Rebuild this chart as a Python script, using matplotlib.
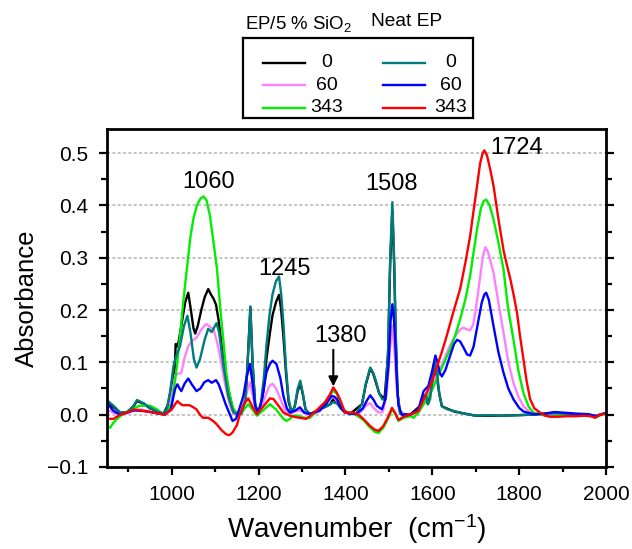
import matplotlib
matplotlib.use("Agg")
import matplotlib.pyplot as plt
from matplotlib.ticker import MultipleLocator, FuncFormatter

plt.rcParams['font.family'] = ['Liberation Sans', 'DejaVu Sans']
plt.rcParams['mathtext.fontset'] = 'custom'
plt.rcParams['mathtext.rm'] = 'Liberation Sans'
plt.rcParams['mathtext.it'] = 'Liberation Sans:italic'
plt.rcParams['mathtext.bf'] = 'Liberation Sans:bold'

# EP/5 % SiO2, 0 h  (black)
si0_x = [850, 865, 881, 897, 912, 920, 935, 950, 966, 981, 992, 1000, 1007, 1009, 1012, 1016,
         1024, 1031, 1038, 1044, 1050, 1054, 1060, 1068, 1076, 1084, 1090, 1096, 1102, 1108,
         1115, 1122, 1130, 1140, 1150, 1160, 1170, 1176, 1181, 1186, 1192, 1198, 1205, 1212,
         1218, 1225, 1232, 1240, 1247, 1252, 1257, 1263, 1269, 1276, 1283, 1290, 1296, 1302,
         1308, 1318, 1341, 1365, 1372, 1378, 1383, 1390, 1410, 1438, 1447, 1457, 1464, 1478,
         1490, 1498, 1503, 1508, 1512, 1516, 1520, 1526, 1549, 1572, 1582, 1590, 1600, 1606,
         1616, 1622, 1650, 1700, 1760, 1830, 1890, 1950, 1975, 2000]
si0_y = [0.022, 0.015, 0.004, 0.004, 0.016, 0.026, 0.021, 0.012, 0.006, 0.002, 0.02, 0.06, 0.09,
         0.135, 0.13, 0.14, 0.18, 0.215, 0.233, 0.2, 0.165, 0.155, 0.17, 0.2, 0.225, 0.24, 0.23,
         0.222, 0.21, 0.18, 0.13, 0.09, 0.05, 0.012, 0.002, 0.002, 0.03, 0.12, 0.205, 0.1, 0.02,
         0.002, 0.015, 0.05, 0.106, 0.15, 0.19, 0.215, 0.229, 0.2, 0.15, 0.08, 0.025, 0.004,
         0.015, 0.045, 0.06, 0.038, 0.01, 0.001, 0.01, 0.02, 0.03, 0.022, 0.028, 0.012, 0.001,
         0.02, 0.058, 0.088, 0.078, 0.04, 0.03, 0.115, 0.29, 0.39, 0.29, 0.14, 0.04, 0.002, 0.0,
         0.017, 0.037, 0.02, 0.063, 0.098, 0.04, 0.016, 0.006, -0.002, -0.002, 0.0, 0.003, 0.0,
         -0.003, 0.003]

# EP/5 % SiO2, 60 h  (pink)
si60_x = [850, 860, 870, 885, 900, 915, 930, 950, 970, 985, 995, 1003, 1008, 1015, 1022, 1030,
          1038, 1048, 1057, 1066, 1075, 1080, 1088, 1096, 1104, 1111, 1120, 1130, 1138, 1145,
          1152, 1162, 1172, 1180, 1188, 1196, 1205, 1215, 1225, 1232, 1241, 1250, 1261, 1272,
          1285, 1295, 1308, 1320, 1340, 1360, 1372, 1385, 1398, 1415, 1435, 1448, 1457, 1466,
          1476, 1486, 1495, 1502, 1508, 1513, 1518, 1524, 1532, 1550, 1568, 1587, 1600, 1610,
          1622, 1633, 1645, 1657, 1664, 1672, 1680, 1687, 1694, 1700, 1708, 1716, 1722, 1728,
          1735, 1741, 1752, 1764, 1775, 1787, 1798, 1810, 1822, 1833, 1860, 1890, 1920, 1950,
          1975, 2000]
si60_y = [0.01, 0.006, 0.002, 0.001, 0.003, 0.01, 0.01, 0.006, 0.002, 0.001, 0.015, 0.05, 0.075,
          0.078, 0.08, 0.11, 0.131, 0.142, 0.147, 0.16, 0.17, 0.173, 0.168, 0.163, 0.14, 0.112,
          0.07, 0.03, 0.008, 0.0, -0.002, 0.01, 0.04, 0.062, 0.03, 0.004, 0.01, 0.035, 0.055,
          0.059, 0.049, 0.03, 0.008, 0.002, 0.006, 0.008, 0.002, 0.0, 0.006, 0.025, 0.035, 0.02,
          0.004, 0.001, 0.005, 0.018, 0.022, 0.012, 0.004, 0.005, 0.04, 0.12, 0.17, 0.12, 0.05,
          0.01, 0.0, 0.0, 0.008, 0.036, 0.055, 0.074, 0.095, 0.118, 0.14, 0.155, 0.163, 0.166,
          0.163, 0.161, 0.172, 0.2, 0.25, 0.3, 0.32, 0.312, 0.29, 0.271, 0.215, 0.156, 0.1, 0.06,
          0.035, 0.016, 0.007, 0.002, 0.0, 0.001, 0.0, -0.002, -0.003, 0.002]

# EP/5 % SiO2, 343 h  (green)
si343_x = [850, 858, 866, 881, 904, 927, 950, 966, 981, 1000, 1010, 1019, 1027, 1035, 1043, 1050,
           1058, 1066, 1073, 1080, 1088, 1096, 1104, 1112, 1119, 1126, 1134, 1142, 1150, 1160,
           1168, 1176, 1184, 1196, 1210, 1226, 1240, 1250, 1257, 1264, 1272, 1280, 1290, 1305,
           1318, 1333, 1353, 1365, 1372, 1380, 1390, 1400, 1418, 1441, 1456, 1468, 1476, 1487,
           1499, 1507, 1514, 1522, 1534, 1549, 1557, 1568, 1587, 1600, 1610, 1622, 1633, 1641,
           1654, 1664, 1676, 1687, 1695, 1703, 1712, 1718, 1724, 1732, 1741, 1752, 1764, 1775,
           1787, 1798, 1810, 1822, 1833, 1848, 1870, 1900, 1930, 1960, 1978, 1990, 2000]
si343_y = [-0.022, -0.025, -0.015, -0.003, 0.01, 0.017, 0.017, 0.01, 0.0, 0.02, 0.08, 0.15, 0.22,
           0.28, 0.34, 0.375, 0.4, 0.413, 0.417, 0.41, 0.38, 0.33, 0.28, 0.2, 0.14, 0.075, 0.035,
           0.01, 0.002, 0.002, 0.012, 0.02, 0.012, -0.002, 0.008, 0.02, 0.01, 0.0, -0.008, -0.012,
           -0.008, -0.002, -0.002, -0.006, -0.006, 0.006, 0.02, 0.038, 0.046, 0.04, 0.02, 0.004,
           0.003, -0.01, -0.024, -0.033, -0.035, -0.025, -0.006, 0.01, 0.002, -0.012, -0.006,
           -0.003, -0.006, 0.004, 0.029, 0.048, 0.068, 0.09, 0.11, 0.125, 0.155, 0.182, 0.22,
           0.265, 0.31, 0.354, 0.395, 0.408, 0.411, 0.4, 0.373, 0.33, 0.277, 0.2, 0.143, 0.085,
           0.041, 0.015, 0.004, 0.0, -0.003, -0.001, 0.0, -0.002, -0.005, 0.0, 0.002]

# Neat EP, 0 h  (teal)
ep0_x = [850, 866, 881, 897, 912, 920, 935, 950, 966, 981, 988, 996, 1004, 1010, 1019, 1028,
         1036, 1043, 1051, 1057, 1065, 1076, 1084, 1092, 1103, 1109, 1119, 1130, 1142, 1153,
         1160, 1170, 1176, 1181, 1186, 1192, 1198, 1205, 1212, 1218, 1225, 1232, 1240, 1247,
         1252, 1257, 1263, 1269, 1276, 1283, 1290, 1296, 1302, 1308, 1318, 1330, 1341, 1355,
         1365, 1372, 1380, 1387, 1398, 1410, 1425, 1438, 1447, 1457, 1464, 1470, 1478, 1485,
         1492, 1498, 1503, 1508, 1512, 1516, 1520, 1526, 1535, 1549, 1562, 1572, 1580, 1585,
         1590, 1595, 1600, 1606, 1611, 1616, 1622, 1635, 1650, 1664, 1680, 1700, 1730, 1760,
         1800, 1830, 1860, 1890, 1920, 1950, 1975, 1990, 2000]
ep0_y = [0.028, 0.017, 0.004, 0.004, 0.017, 0.028, 0.022, 0.013, 0.006, 0.002, 0.01, 0.042,
         0.093, 0.112, 0.131, 0.169, 0.189, 0.157, 0.106, 0.09, 0.106, 0.144, 0.164, 0.158,
         0.175, 0.157, 0.093, 0.036, 0.004, 0.0, 0.002, 0.03, 0.12, 0.207, 0.1, 0.02, 0.002,
         0.02, 0.07, 0.132, 0.19, 0.23, 0.255, 0.264, 0.23, 0.176, 0.09, 0.03, 0.004, 0.015,
         0.05, 0.065, 0.04, 0.01, 0.001, 0.005, 0.011, 0.015, 0.02, 0.024, 0.022, 0.014, 0.005,
         0.001, 0.003, 0.02, 0.06, 0.09, 0.08, 0.065, 0.04, 0.029, 0.03, 0.12, 0.3, 0.406, 0.3,
         0.15, 0.04, 0.002, -0.003, 0.0, 0.005, 0.017, 0.035, 0.038, 0.02, 0.03, 0.065, 0.1,
         0.08, 0.04, 0.016, 0.01, 0.007, 0.004, 0.001, -0.002, -0.001, -0.002, -0.001, 0.0,
         0.002, 0.003, 0.001, 0.0, -0.003, 0.001, 0.003]

# Neat EP, 60 h  (blue)
ep60_x = [850, 858, 866, 881, 897, 912, 935, 958, 984, 998, 1004, 1008, 1013, 1018, 1022, 1030,
          1038, 1046, 1057, 1066, 1075, 1084, 1092, 1102, 1108, 1115, 1124, 1134, 1140, 1148,
          1156, 1165, 1172, 1180, 1186, 1192, 1199, 1208, 1218, 1226, 1232, 1241, 1250, 1257,
          1265, 1272, 1285, 1295, 1305, 1318, 1341, 1355, 1368, 1375, 1380, 1390, 1399, 1425,
          1440, 1450, 1457, 1465, 1472, 1484, 1492, 1499, 1504, 1508, 1511, 1514, 1518, 1522,
          1530, 1549, 1568, 1580, 1591, 1600, 1607, 1612, 1617, 1622, 1630, 1640, 1650, 1657,
          1664, 1672, 1680, 1687, 1695, 1705, 1714, 1720, 1724, 1730, 1741, 1752, 1764, 1775,
          1787, 1800, 1810, 1833, 1860, 1880, 1900, 1930, 1960, 1978, 1990, 2000]
ep60_y = [0.025, 0.015, 0.007, 0.0, 0.004, 0.008, 0.007, 0.004, 0.0, 0.01, 0.035, 0.05, 0.058,
          0.05, 0.045, 0.06, 0.069, 0.058, 0.045, 0.05, 0.062, 0.066, 0.061, 0.066, 0.058, 0.042,
          0.02, 0.0, -0.012, -0.008, 0.012, 0.036, 0.07, 0.097, 0.06, 0.017, 0.004, 0.03, 0.081,
          0.097, 0.103, 0.097, 0.07, 0.036, 0.012, 0.004, 0.008, 0.014, 0.004, 0.001, 0.008,
          0.02, 0.036, 0.034, 0.03, 0.012, 0.004, 0.001, 0.012, 0.028, 0.037, 0.028, 0.017, 0.01,
          0.03, 0.093, 0.18, 0.211, 0.19, 0.15, 0.07, 0.017, 0.0, 0.0, 0.01, 0.045, 0.055, 0.085,
          0.113, 0.1, 0.08, 0.073, 0.085, 0.11, 0.135, 0.143, 0.14, 0.128, 0.115, 0.113, 0.13,
          0.175, 0.215, 0.23, 0.233, 0.22, 0.169, 0.12, 0.08, 0.05, 0.029, 0.013, 0.006, 0.001,
          0.002, 0.005, 0.004, 0.002, 0.001, -0.003, 0.001, 0.003]

# Neat EP, 343 h  (red)
ep343_x = [850, 866, 881, 897, 912, 935, 958, 984, 1000, 1008, 1013, 1018, 1025, 1041, 1050, 1057,
           1065, 1072, 1084, 1095, 1103, 1115, 1126, 1133, 1140, 1150, 1157, 1165, 1176, 1186,
           1196, 1210, 1226, 1234, 1245, 1257, 1272, 1287, 1310, 1322, 1333, 1353, 1364, 1372,
           1380, 1387, 1399, 1418, 1430, 1441, 1456, 1466, 1476, 1487, 1499, 1507, 1514, 1522,
           1534, 1549, 1568, 1587, 1600, 1610, 1622, 1633, 1648, 1664, 1676, 1687, 1695, 1703,
           1710, 1716, 1720, 1726, 1733, 1741, 1752, 1764, 1772, 1780, 1787, 1795, 1802, 1810,
           1817, 1825, 1835, 1848, 1860, 1871, 1890, 1910, 1930, 1950, 1965, 1975, 1985, 2000]
ep343_y = [-0.008, -0.008, 0.0, 0.004, 0.01, 0.007, 0.004, 0.0, 0.01, 0.02, 0.026, 0.022, 0.018,
           0.018, 0.014, 0.01, 0.0, -0.006, -0.006, -0.012, -0.018, -0.03, -0.038, -0.039, -0.034,
           -0.02, 0.001, 0.018, 0.031, 0.015, 0.001, 0.015, 0.031, 0.03, 0.018, 0.004, -0.002,
           -0.005, -0.008, 0.0, 0.008, 0.024, 0.038, 0.052, 0.042, 0.03, 0.004, 0.004, 0.0, -0.008,
           -0.021, -0.028, -0.031, -0.022, -0.003, 0.013, 0.004, -0.01, -0.004, 0.0, 0.007, 0.042,
           0.065, 0.09, 0.12, 0.15, 0.195, 0.24, 0.29, 0.341, 0.39, 0.437, 0.48, 0.5, 0.505, 0.495,
           0.47, 0.437, 0.375, 0.314, 0.285, 0.258, 0.23, 0.195, 0.15, 0.105, 0.065, 0.03, 0.012,
           0.004, -0.002, -0.004, -0.004, -0.003, -0.003, -0.002, -0.003, -0.006, 0.0, 0.002]

series = [
    (si0_x, si0_y, '#000000', '0'),
    (si60_x, si60_y, '#ff80ff', '60'),
    (si343_x, si343_y, '#00ee00', '343'),
    (ep0_x, ep0_y, '#007b7b', '0'),
    (ep60_x, ep60_y, '#0000ff', '60'),
    (ep343_x, ep343_y, '#ff0000', '343'),
]

peak_labels = ['1060', '1245', '1380', '1508', '1724']
peak_pos = [(1084, 0.445), (1259, 0.278), (1388, 0.151), (1505, 0.44), (1793, 0.509)]

fig = plt.figure(figsize=(6.32, 5.49), dpi=100)
ax = fig.add_axes([0.1687, 0.1494, 0.7902, 0.6157])

for x, y, c, lab in series:
    ax.plot(x, y, color=c, lw=1.7, solid_joinstyle='round')

ax.set_xlim(850, 2000)
ax.set_ylim(-0.1, 0.546)
ax.xaxis.set_major_locator(MultipleLocator(200))
ax.xaxis.set_minor_locator(MultipleLocator(100))
ax.yaxis.set_major_locator(MultipleLocator(0.1))
ax.yaxis.set_minor_locator(MultipleLocator(0.05))
ax.yaxis.set_major_formatter(FuncFormatter(lambda v, p: f'{v:.1f}'.replace('-', '\u2212')))
ax.set_xticks([1000, 1200, 1400, 1600, 1800, 2000])

for yv in [0.0, 0.1, 0.2, 0.3, 0.4, 0.5]:
    ax.axhline(yv, color='#b4b4b4', lw=1.1, ls=(0, (2, 1.5)), zorder=0)

for s in ax.spines.values():
    s.set_linewidth(2)
ax.tick_params(axis='both', which='major', direction='out', length=6, width=1.6,
               labelsize=15, pad=7)
ax.tick_params(axis='both', which='minor', direction='out', length=3.5, width=1.6)
ax.tick_params(axis='y', which='both', right=True, direction='in', length=1.5)
ax.tick_params(axis='y', which='major', left=True, direction='out', length=6, labelsize=15)
ax.tick_params(axis='y', which='minor', left=True, direction='out', length=4.5)

ax.set_xlabel('Wavenumber  (cm$^{-1}$)', fontsize=20, labelpad=6)
ax.set_ylabel('Absorbance', fontsize=18.5, labelpad=6)

for txt, (px, py) in zip(peak_labels, peak_pos):
    ax.text(px, py, txt, fontsize=17, ha='center', va='center')
ax.annotate('', xy=(1372, 0.054), xytext=(1372, 0.124),
            arrowprops=dict(arrowstyle='-|>', color='black', lw=1.5,
                            mutation_scale=14, shrinkA=0, shrinkB=0))

# legend drawn as a small framed box above the plot
lax = fig.add_axes([243 / 632, 1 - 118 / 549, 230 / 632, 80 / 549])
lax.set_xlim(0, 1)
lax.set_ylim(0, 1)
lax.set_xticks([])
lax.set_yticks([])
for s in lax.spines.values():
    s.set_linewidth(1.6)
rows = [0.69, 0.41, 0.13]
for i, (x, y, c, lab) in enumerate(series):
    col = i // 3
    yy = rows[i % 3]
    x0, x1, xt = [(0.087, 0.27, 0.365), (0.609, 0.791, 0.904)][col]
    lax.plot([x0, x1], [yy, yy], color=c, lw=1.7)
    lax.text(xt, yy, lab, fontsize=14, ha='center', va='center')

fig.text(299 / 632, 1 - 24 / 549, 'EP/5 % SiO$_2$', fontsize=13.4, ha='center', va='center')
fig.text(407 / 632, 1 - 21 / 549, 'Neat EP', fontsize=13.8, ha='center', va='center')

fig.savefig('out.png', dpi=100)
